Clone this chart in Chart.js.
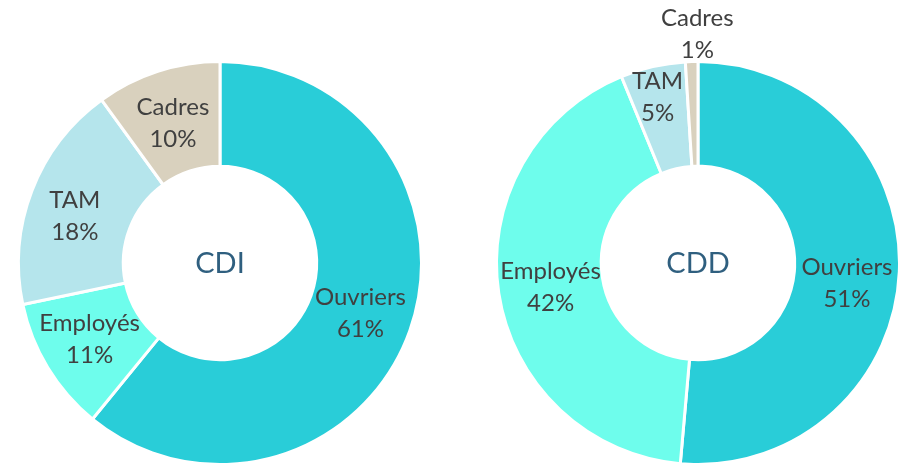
<!DOCTYPE html>
<html><head><meta charset="utf-8">
<script src="https://cdn.jsdelivr.net/npm/chart.js@4.4.1/dist/chart.umd.min.js"></script>
<style>
html,body{margin:0;padding:0;width:906px;height:464px;overflow:hidden;background:#fff;position:relative;}
.wrap{position:absolute;top:0;width:453px;height:470px;}
</style></head><body>
<div class="wrap" style="left:0px"><canvas id="c1" width="453" height="470"></canvas></div>
<div class="wrap" style="left:453px"><canvas id="c2" width="453" height="470"></canvas></div>
<script>
const categories = ["Ouvriers", "Employés", "TAM", "Cadres"];
const cdiValues = [60.9, 10.8, 18.3, 10.0];
const cddValues = [51.4, 42.4, 5.2, 1.0];
const cdiTitle = "CDI";
const cddTitle = "CDD";
const colors = ["#29CDD8", "#6EFDEC", "#B5E5EC", "#D9D1BE"];

const labelPlugin = {
  id: 'sliceLabels',
  afterDatasetsDraw(chart, args, opts) {
    const ctx = chart.ctx;
    const meta = chart.getDatasetMeta(0);
    const data = chart.data.datasets[0].data;
    const total = data.reduce((a, b) => a + b, 0);
    ctx.save();
    ctx.textAlign = 'center';
    ctx.textBaseline = 'middle';
    meta.data.forEach((arc, i) => {
      const p = arc.tooltipPosition();
      const off = (opts.offsets && opts.offsets[i]) || [0, 0];
      const x = p.x + off[0], y = p.y + off[1];
      ctx.fillStyle = '#404040';
      ctx.font = '24px Lato';
      ctx.fillText(chart.data.labels[i], x, y - 16);
      ctx.fillText(Math.round(data[i] / total * 100) + '%', x, y + 16);
    });
    const a = chart.chartArea;
    ctx.fillStyle = '#2F5F7F';
    ctx.font = '29px Lato';
    ctx.fillText(opts.title, (a.left + a.right) / 2, (a.top + a.bottom) / 2 + 1);
    ctx.restore();
  }
};

function makeChart(id, values, title, padding, offsets) {
  return new Chart(document.getElementById(id), {
    type: 'doughnut',
    data: {
      labels: categories,
      datasets: [{
        data: values,
        backgroundColor: colors,
        borderColor: '#ffffff',
        borderWidth: 3,
        hoverOffset: 0
      }]
    },
    options: {
      responsive: false,
      animation: false,
      cutout: '48%',
      layout: { padding: padding },
      plugins: {
        legend: { display: false },
        tooltip: { enabled: false },
        sliceLabels: { title: title, offsets: offsets }
      }
    },
    plugins: [labelPlugin]
  });
}

makeChart('c1', cdiValues, cdiTitle, {left: 17, top: 60, right: 30, bottom: 4},
  [[0, 0], [-3, -1], [-6, 7], [-1, 2]]);
makeChart('c2', cddValues, cddTitle, {left: 42, top: 60, right: 5, bottom: 4},
  [[0, 14], [0, 2], [-7, -20], [4, -80]]);
</script>
</body></html>
